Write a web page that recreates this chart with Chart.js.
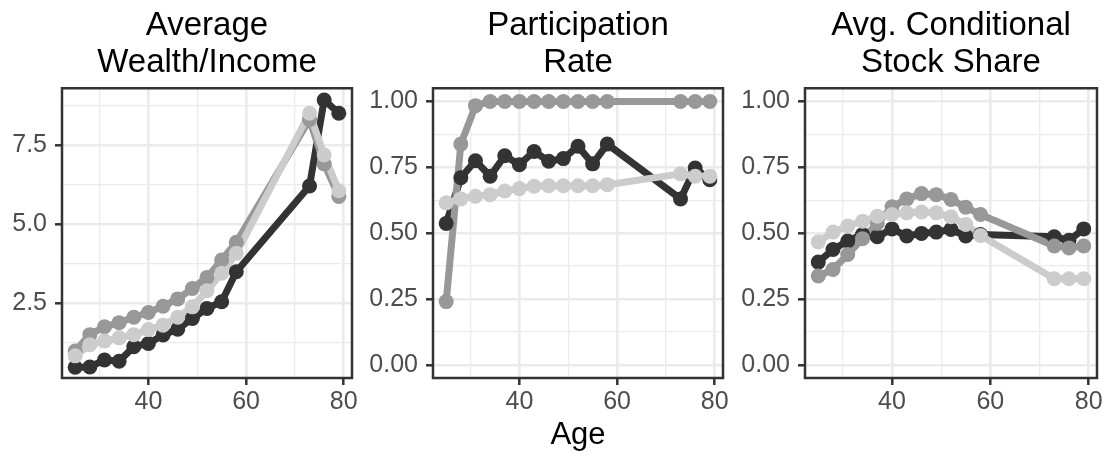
<!DOCTYPE html>
<html>
<head>
<meta charset="utf-8">
<script src="https://cdn.jsdelivr.net/npm/chart.js@4/dist/chart.umd.min.js"></script>
<style>
  body { margin: 0; background: #fff; }
  #wrap { position: relative; width: 1109px; height: 458px; overflow: hidden; }
  canvas { position: absolute; top: 0; }
</style>
</head>
<body>
<div id="wrap">
  <canvas id="wealth" width="372" height="458" style="left:0px"></canvas>
  <canvas id="part" width="380" height="458" style="left:362px"></canvas>
  <canvas id="share" width="374" height="458" style="left:735px"></canvas>
</div>
<script>
// ages where the model is reported
const ages = [25, 28, 31, 34, 37, 40, 43, 46, 49, 52, 55, 58, 73, 76, 79]

const wealthDark = [0.47, 0.48, 0.70, 0.66, 1.12, 1.22, 1.49, 1.67, 2.01, 2.33, 2.54, 3.49, 6.2, 8.92, 8.5]
const wealthMid = [0.98, 1.5, 1.75, 1.88, 2.05, 2.2, 2.4, 2.63, 2.96, 3.31, 3.86, 4.42, 8.3, 6.9, 5.87]
const wealthLight = [0.83, 1.18, 1.3, 1.4, 1.5, 1.66, 1.8, 2.05, 2.38, 2.89, 3.44, 4.07, 8.5, 7.18, 6.05]

const partDark = [0.537, 0.71, 0.775, 0.716, 0.794, 0.76, 0.81, 0.773, 0.783, 0.83, 0.763, 0.838, 0.63, 0.747, 0.703]
const partMid = [0.24, 0.838, 0.984, 1, 1, 1, 1, 1, 1, 1, 1, 1, 1, 1, 1]
const partLight = [0.615, 0.63, 0.64, 0.646, 0.66, 0.669, 0.678, 0.68, 0.68, 0.68, 0.68, 0.684, 0.725, 0.716, 0.716]

const shareDark = [0.39, 0.438, 0.47, 0.495, 0.486, 0.516, 0.489, 0.499, 0.504, 0.514, 0.489, 0.495, 0.486, 0.473, 0.516]
const shareMid = [0.337, 0.362, 0.419, 0.479, 0.537, 0.6, 0.63, 0.65, 0.646, 0.628, 0.598, 0.571, 0.451, 0.444, 0.451]
const shareLight = [0.467, 0.504, 0.527, 0.545, 0.564, 0.571, 0.577, 0.58, 0.577, 0.562, 0.533, 0.491, 0.327, 0.327, 0.327]

// tick positions
const xMajor = [40, 60, 80]
const xMinor = [30, 50, 70]
const wealthMajor = [2.5, 5.0, 7.5]
const wealthMinor = [1.25, 3.75, 6.25, 8.75]
const rateMajor = [0, 0.25, 0.5, 0.75, 1]
const rateMinor = [0.125, 0.375, 0.625, 0.875]

const dark = '#333333'
const mid = '#989898'
const light = '#cccccc'

Chart.defaults.font.family = "'Liberation Sans', Arial, sans-serif"

// ggplot-like box round the panel
const panelBorder = {
  id: 'panelBorder',
  afterDraw: chart => {
    const { ctx, chartArea: a } = chart
    ctx.save()
    ctx.strokeStyle = dark
    ctx.lineWidth = 2.5
    ctx.strokeRect(a.left, a.top, a.right - a.left, a.bottom - a.top)
    ctx.restore()
  }
}

const isMajor = (c, major) => c.tick && major.includes(c.tick.value)

const makeGrid = major => ({
  color: '#ebebeb',
  lineWidth: c => isMajor(c, major) ? 2.6 : 1.3,
  tickColor: c => isMajor(c, major) ? dark : 'rgba(0,0,0,0)',
  tickWidth: 2.5,
  tickLength: 7
})

const drawPanel = (id, title, series, yMin, yMax, yMajor, yMinor, digits, yWidth, padRight, xTitle) => {
  const datasets = []
  series.forEach((s, i) => {
    const pts = ages.map((a, j) => ({ x: a, y: s.values[j] }))
    // lines under all points, lighter groups on top
    datasets.push({
      data: pts,
      borderColor: s.color,
      borderWidth: 7,
      borderJoinStyle: 'round',
      borderCapStyle: 'round',
      pointRadius: 0,
      order: 5 - i
    })
    datasets.push({
      data: pts,
      showLine: false,
      pointRadius: 7.5,
      pointBorderWidth: 0,
      pointBackgroundColor: s.color,
      order: 2 - i
    })
  })

  new Chart(document.getElementById(id), {
    type: 'line',
    data: { datasets: datasets },
    plugins: [panelBorder],
    options: {
      responsive: false,
      animation: false,
      events: [],
      layout: { padding: { left: 0, right: padRight, top: 0, bottom: 0 } },
      plugins: {
        legend: { display: false },
        tooltip: { enabled: false },
        title: {
          display: true,
          text: title,
          fullSize: false,
          color: '#000',
          font: { size: 33, weight: 'normal', lineHeight: 1.11 },
          padding: { top: 8, bottom: 7 }
        }
      },
      scales: {
        x: {
          type: 'linear',
          min: 22.3,
          max: 81.7,
          afterBuildTicks: axis => { axis.ticks = xMinor.concat(xMajor).sort((a, b) => a - b).map(v => ({ value: v })) },
          afterFit: axis => { axis.height = 80 },
          grid: makeGrid(xMajor),
          border: { display: false },
          ticks: {
            autoSkip: false,
            maxRotation: 0,
            padding: 2,
            color: '#4d4d4d',
            font: { size: 25 },
            callback: v => xMajor.includes(v) ? String(v) : ''
          },
          title: {
            display: !!xTitle,
            text: xTitle || '',
            color: '#000',
            font: { size: 31 },
            padding: { top: 0, bottom: 4 }
          }
        },
        y: {
          min: yMin,
          max: yMax,
          afterBuildTicks: axis => { axis.ticks = yMinor.concat(yMajor).sort((a, b) => a - b).map(v => ({ value: v })) },
          afterFit: axis => { axis.width = yWidth },
          grid: makeGrid(yMajor),
          border: { display: false },
          ticks: {
            autoSkip: false,
            padding: 8,
            color: '#4d4d4d',
            font: { size: 25 },
            callback: v => yMajor.includes(v) ? v.toFixed(digits) : ''
          }
        }
      }
    }
  })
}

drawPanel('wealth', ['Average', 'Wealth/Income'],
  [{ values: wealthDark, color: dark }, { values: wealthMid, color: mid }, { values: wealthLight, color: light }],
  0.13, 9.29, wealthMajor, wealthMinor, 1, 62, 20)

drawPanel('part', ['Participation', 'Rate'],
  [{ values: partDark, color: dark }, { values: partMid, color: mid }, { values: partLight, color: light }],
  -0.05, 1.05, rateMajor, rateMinor, 2, 71, 19, 'Age')

drawPanel('share', ['Avg. Conditional', 'Stock Share'],
  [{ values: shareDark, color: dark }, { values: shareMid, color: mid }, { values: shareLight, color: light }],
  -0.05, 1.05, rateMajor, rateMinor, 2, 70, 12)
</script>
</body>
</html>
